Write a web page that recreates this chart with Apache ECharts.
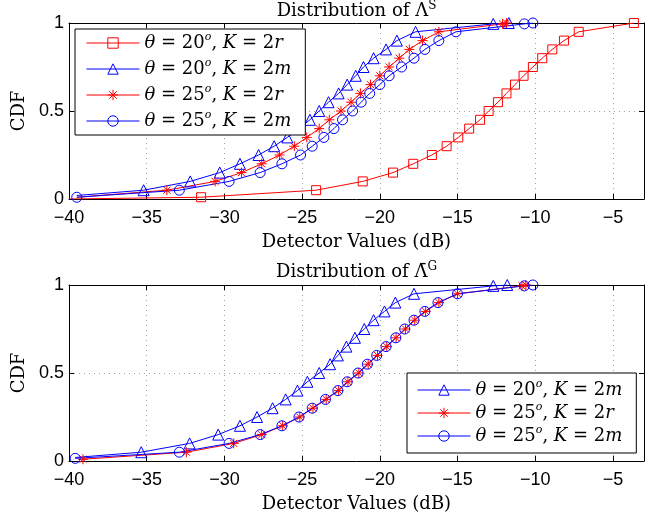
<!DOCTYPE html>
<html><head><meta charset="utf-8">
<script src="https://cdn.jsdelivr.net/npm/echarts@6/dist/echarts.min.js"></script>
<style>html,body{margin:0;padding:0;background:#fff}#c{width:654px;height:523px}</style>
</head><body><div id="c"></div>
<script>
// ---------- data ----------
const xMin = -40, xMax = -3, xStep = 5;
const yMin = 0, yMax = 1, yStep = 0.5;

const seriesNames = [
  'θ = 20o, K = 2r',
  'θ = 20o, K = 2m',
  'θ = 25o, K = 2r',
  'θ = 25o, K = 2m'
];
const legendRich = {
  'θ = 20o, K = 2r': '{i|θ} = 20{sup|o}, {i|K} = 2{i|r}',
  'θ = 20o, K = 2m': '{i|θ} = 20{sup|o}, {i|K} = 2{i|m}',
  'θ = 25o, K = 2r': '{i|θ} = 25{sup|o}, {i|K} = 2{i|r}',
  'θ = 25o, K = 2m': '{i|θ} = 25{sup|o}, {i|K} = 2{i|m}'
};

// top panel: Distribution of Λ^S
const topSq20rX = [-40, -31.5, -24.1, -21.1, -19.15, -17.85, -16.65, -15.7, -14.95, -14.25, -13.55, -13.0, -12.4, -11.85, -11.3, -10.75, -10.15, -9.55, -8.9, -8.15, -7.2, -3.65];
const topSq20rY = [0, 0.01, 0.05, 0.10, 0.15, 0.20, 0.25, 0.30, 0.35, 0.40, 0.45, 0.50, 0.55, 0.60, 0.65, 0.70, 0.75, 0.80, 0.85, 0.90, 0.95, 1.0];

const topTri20mX = [-39.5, -35.2, -32.2, -30.3, -29.0, -27.8, -26.8, -25.95, -25.2, -24.5, -23.9, -23.3, -22.65, -22.1, -21.55, -21.05, -20.4, -19.6, -18.9, -17.7, -12.7, -11.7];
const topTri20mY = [0.02, 0.05, 0.10, 0.15, 0.20, 0.25, 0.30, 0.35, 0.40, 0.45, 0.50, 0.55, 0.60, 0.65, 0.70, 0.75, 0.80, 0.85, 0.90, 0.95, 0.995, 1.0];

const topStar25rX = [-39.5, -33.7, -30.6, -28.9, -27.6, -26.45, -25.5, -24.7, -23.9, -23.25, -22.5, -21.85, -21.25, -20.6, -20.0, -19.4, -18.75, -18.1, -17.25, -16.2, -12.1, -11.85];
const topStar25rY = [0.01, 0.05, 0.10, 0.15, 0.20, 0.25, 0.30, 0.35, 0.40, 0.45, 0.50, 0.55, 0.60, 0.65, 0.70, 0.75, 0.80, 0.85, 0.90, 0.95, 0.995, 1.0];

const topCirc25mX = [-39.5, -32.9, -29.7, -27.7, -26.3, -25.1, -24.35, -23.6, -22.95, -22.4, -21.75, -21.2, -20.65, -20.0, -19.4, -18.6, -17.8, -17.1, -16.2, -15.1, -10.7, -10.15];
const topCirc25mY = [0.01, 0.05, 0.10, 0.15, 0.20, 0.25, 0.30, 0.35, 0.40, 0.45, 0.50, 0.55, 0.60, 0.65, 0.70, 0.75, 0.80, 0.85, 0.90, 0.95, 0.995, 1.0];

// bottom panel: Distribution of Λ̄^G
const botTri20mX = [-39.6, -35.35, -32.24, -30.4, -29.0, -27.9, -26.9, -26.06, -25.3, -24.66, -23.9, -23.2, -22.7, -22.15, -21.6, -21.0, -20.4, -19.7, -19.0, -17.8, -12.7, -11.8];
const botTri20mY = [0.02, 0.05, 0.10, 0.15, 0.20, 0.25, 0.30, 0.35, 0.40, 0.45, 0.50, 0.55, 0.60, 0.65, 0.70, 0.75, 0.80, 0.85, 0.90, 0.95, 0.995, 1.0];

const botStar25rX = [-39.1, -32.45, -29.4, -27.6, -26.25, -25.15, -24.3, -23.45, -22.65, -22.05, -21.35, -20.75, -20.15, -19.55, -18.95, -18.35, -17.75, -17.05, -16.2, -15.0, -10.85, -10.6];
const botStar25rY = [0.01, 0.05, 0.10, 0.15, 0.20, 0.25, 0.30, 0.35, 0.40, 0.45, 0.50, 0.55, 0.60, 0.65, 0.70, 0.75, 0.80, 0.85, 0.90, 0.95, 0.995, 1.0];

const botCirc25mX = [-39.6, -32.9, -29.7, -27.7, -26.3, -25.2, -24.35, -23.5, -22.7, -22.1, -21.4, -20.8, -20.2, -19.6, -18.97, -18.4, -17.8, -17.1, -16.26, -15.0, -10.7, -10.15];
const botCirc25mY = [0.015, 0.05, 0.10, 0.15, 0.20, 0.25, 0.30, 0.35, 0.40, 0.45, 0.50, 0.55, 0.60, 0.65, 0.70, 0.75, 0.80, 0.85, 0.90, 0.95, 0.995, 1.0];

// ---------- styling ----------
const RED = '#ff0000', BLUE = '#0000ff';
const SERIF = '"DejaVu Serif","Liberation Serif",serif';
const SANS = '"Liberation Sans",Arial,Helvetica,sans-serif';
const STAR = 'path://M0 -10L0 10M-10 0L10 0M-7.07 -7.07L7.07 7.07M-7.07 7.07L7.07 -7.07';
const kinds = {
  square:   { symbol: 'rect', size: 9, color: RED },
  triangle: { symbol: 'triangle', size: 11, color: BLUE },
  star:     { symbol: STAR, size: 10, color: RED },
  circle:   { symbol: 'circle', size: 10, color: BLUE }
};

function mk(name, xs, ys, gi, kind, hideFirst) {
  const k = kinds[kind];
  const data = xs.map((x, i) => {
    const item = { value: [x, ys[i]] };
    if (hideFirst && i === 0) item.symbol = 'none';
    return item;
  });
  return {
    name, type: 'line', xAxisIndex: gi * 2, yAxisIndex: gi * 2, data,
    symbol: k.symbol, symbolSize: k.size, showSymbol: true,
    lineStyle: { color: k.color, width: 1 },
    itemStyle: { color: kind === 'star' ? k.color : 'rgba(255,255,255,0)', borderColor: k.color, borderWidth: 1 },
    emphasis: { disabled: true }, animation: false, z: 3
  };
}

const grids = [
  { left: 69, top: 23, width: 575, height: 176 },
  { left: 69, top: 285, width: 575, height: 176 }
];
const tickFmt = v => String(v).replace('-', '\u2212');
const xAxes = [], yAxes = [];
grids.forEach((g, gi) => {
  const base = {
    gridIndex: gi, type: 'value', min: xMin, max: xMax, interval: xStep,
    axisLine: { show: true, onZero: false, lineStyle: { color: '#000', width: 1 } },
    axisTick: { show: true, inside: true, length: 5, lineStyle: { color: '#000' } }
  };
  xAxes.push(Object.assign({}, base, {
    position: 'bottom',
    axisLabel: { show: true, fontFamily: SANS, fontSize: 18, color: '#000', margin: 10, showMaxLabel: false, formatter: tickFmt },
    splitLine: { show: true, lineStyle: { color: '#a0a0a0', type: [1, 4], width: 1 } },
    name: 'Detector Values (dB)', nameLocation: 'middle', nameGap: 34,
    nameTextStyle: { fontFamily: SERIF, fontSize: 18, color: '#000' }
  }));
  xAxes.push(Object.assign({}, base, {
    position: 'top', axisLabel: { show: false }, splitLine: { show: false }
  }));
  const ybase = {
    gridIndex: gi, type: 'value', min: yMin, max: yMax, interval: yStep,
    axisLine: { show: true, onZero: false, lineStyle: { color: '#000', width: 1 } },
    axisTick: { show: true, inside: true, length: 5, lineStyle: { color: '#000' } }
  };
  yAxes.push(Object.assign({}, ybase, {
    position: 'left',
    axisLabel: { show: true, fontFamily: SANS, fontSize: 18, color: '#000', margin: 5 },
    splitLine: { show: true, lineStyle: { color: '#a0a0a0', type: [1, 4], width: 1 } },
    name: 'CDF', nameLocation: 'middle', nameGap: 41, nameRotate: 90,
    nameTextStyle: { fontFamily: SERIF, fontSize: 18, color: '#000' }
  }));
  yAxes.push(Object.assign({}, ybase, {
    position: 'right', axisLabel: { show: false }, splitLine: { show: false }
  }));
});

const richStyles = {
  i: { fontStyle: 'italic', fontFamily: SERIF, fontSize: 18, lineHeight: 22, color: '#000' },
  sup: { fontStyle: 'italic', fontFamily: SERIF, fontSize: 11, lineHeight: 11, verticalAlign: 'top', color: '#000' }
};
function legendOpt(names, left, top, gap, pad) {
  return {
    data: names, orient: 'vertical', left, top,
    itemWidth: 53, itemHeight: 13, itemGap: gap, padding: pad,
    backgroundColor: '#fff', borderColor: '#000', borderWidth: 1, borderRadius: 0,
    selectedMode: false,
    itemStyle: { borderWidth: 1 },
    lineStyle: { width: 1 },
    formatter: n => legendRich[n],
    textStyle: { fontFamily: SERIF, fontSize: 18, lineHeight: 22, color: '#000', rich: richStyles }
  };
}

const titleSup = { fontFamily: SERIF, fontSize: 12, lineHeight: 12, verticalAlign: 'top', fill: '#000' };
const option = {
  backgroundColor: '#fff',
  animation: false,
  grid: grids,
  xAxis: xAxes,
  yAxis: yAxes,
  legend: [
    legendOpt(seriesNames, 75, 29, 4, [3, 14, 3, 11]),
    legendOpt(seriesNames.slice(1), 407, 373, 1, [6, 14, 6, 10])
  ],
  graphic: [
    { type: 'text', x: 356.5, y: 11, style: { text: 'Distribution of Λ{sup|S}', align: 'center', verticalAlign: 'middle',
      fontFamily: SERIF, fontSize: 18, fill: '#000', lineHeight: 22, rich: { sup: titleSup } } },
    { type: 'text', x: 356.5, y: 272, style: { text: 'Distribution of Λ\u0304{sup|G}', align: 'center', verticalAlign: 'middle',
      fontFamily: SERIF, fontSize: 18, fill: '#000', lineHeight: 22, rich: { sup: titleSup } } }
  ],
  series: [
    mk(seriesNames[0], topSq20rX, topSq20rY, 0, 'square', true),
    mk(seriesNames[1], topTri20mX, topTri20mY, 0, 'triangle', true),
    mk(seriesNames[2], topStar25rX, topStar25rY, 0, 'star', true),
    mk(seriesNames[3], topCirc25mX, topCirc25mY, 0, 'circle', false),
    mk(seriesNames[1], botTri20mX, botTri20mY, 1, 'triangle', true),
    mk(seriesNames[2], botStar25rX, botStar25rY, 1, 'star', false),
    mk(seriesNames[3], botCirc25mX, botCirc25mY, 1, 'circle', false)
  ]
};
const chart = echarts.init(document.getElementById('c'), null, { renderer: 'canvas' });
chart.setOption(option);
</script></body></html>
